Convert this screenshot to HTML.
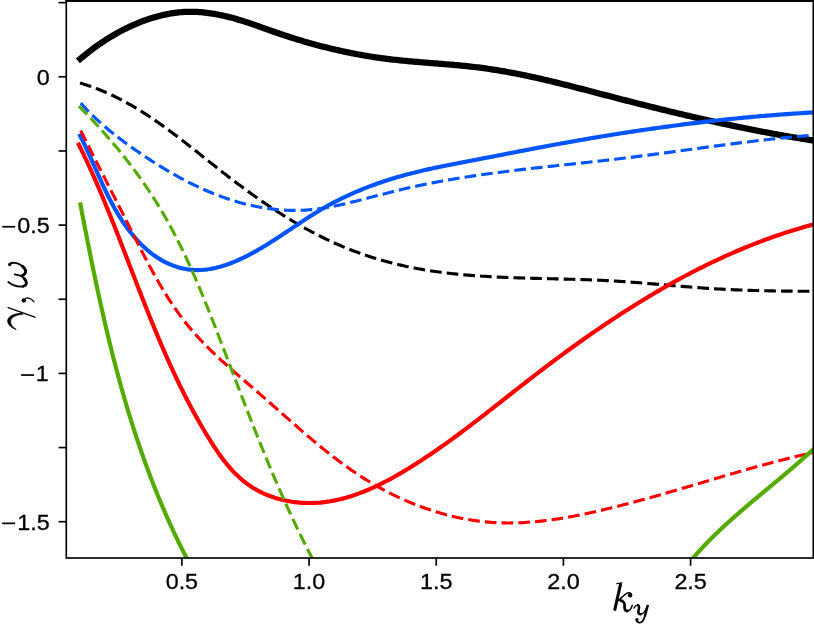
<!DOCTYPE html>
<html><head><meta charset="utf-8"><title>chart</title>
<style>
html,body{margin:0;padding:0;background:#fff;}
body{width:814px;height:630px;overflow:hidden;font-family:"Liberation Sans",sans-serif;}
svg{display:block;}
text{font-family:"Liberation Sans",sans-serif;fill:#000;stroke:#000;stroke-width:0.3px;}
.m{font-family:"Liberation Serif",serif;font-style:italic;}
</style></head><body>
<svg width="814" height="630" viewBox="0 0 814 630">
<rect x="0" y="0" width="814" height="630" fill="#ffffff"/>
<defs><clipPath id="ax"><rect x="66.27" y="0.93" width="747.03" height="557.07"/></clipPath></defs>
<g clip-path="url(#ax)">
<path d="M80.29,58.87 L81.71,57.67 L83.14,56.48 L84.58,55.30 L86.04,54.12 L87.51,52.96 L89.00,51.80 L90.49,50.65 L92.00,49.51 L93.52,48.37 L95.06,47.25 L96.60,46.14 L98.16,45.04 L99.72,43.95 L101.30,42.88 L102.89,41.81 L104.49,40.76 L106.10,39.72 L107.72,38.69 L109.35,37.68 L110.99,36.67 L112.64,35.69 L114.30,34.72 L115.97,33.76 L117.65,32.82 L119.33,31.89 L121.03,30.98 L122.73,30.09 L124.45,29.21 L126.17,28.35 L127.89,27.50 L129.63,26.68 L131.37,25.87 L133.12,25.08 L134.88,24.31 L136.65,23.56 L138.42,22.83 L140.19,22.12 L141.98,21.43 L143.77,20.76 L145.56,20.11 L147.36,19.48 L149.17,18.88 L150.98,18.29 L152.80,17.73 L154.62,17.19 L156.45,16.68 L158.28,16.18 L160.11,15.72 L161.95,15.27 L163.80,14.86 L165.64,14.46 L167.49,14.09 L169.34,13.75 L171.20,13.44 L173.06,13.15 L174.92,12.88 L176.78,12.65 L178.65,12.44 L180.52,12.26 L182.39,12.11 L184.26,11.99 L186.13,11.90 L188.01,11.83 L189.88,11.80 L191.76,11.79 L193.63,11.82 L195.51,11.88 L197.39,11.96 L199.26,12.07 L201.14,12.21 L203.02,12.38 L204.89,12.57 L206.77,12.79 L208.64,13.03 L210.52,13.29 L212.39,13.58 L214.27,13.89 L216.14,14.22 L218.01,14.58 L219.88,14.95 L221.74,15.34 L223.61,15.76 L225.47,16.19 L227.34,16.64 L229.19,17.10 L231.05,17.59 L232.91,18.08 L234.76,18.60 L236.61,19.12 L238.45,19.66 L240.29,20.22 L242.13,20.78 L243.97,21.36 L245.80,21.95 L247.63,22.55 L249.46,23.16 L251.28,23.77 L253.10,24.39 L254.91,25.02 L256.73,25.66 L258.54,26.30 L260.35,26.94 L262.16,27.58 L263.97,28.23 L265.78,28.87 L267.58,29.52 L269.39,30.16 L271.19,30.80 L273.00,31.44 L274.81,32.07 L276.61,32.70 L278.42,33.32 L280.23,33.93 L282.04,34.54 L283.85,35.14 L285.66,35.74 L287.48,36.33 L289.29,36.92 L291.10,37.49 L292.92,38.07 L294.73,38.64 L296.55,39.20 L298.37,39.75 L300.19,40.30 L302.01,40.84 L303.83,41.38 L305.65,41.91 L307.47,42.44 L309.29,42.96 L311.12,43.47 L312.94,43.98 L314.77,44.48 L316.60,44.97 L318.43,45.46 L320.26,45.94 L322.09,46.41 L323.92,46.88 L325.76,47.34 L327.59,47.80 L329.43,48.25 L331.26,48.69 L333.10,49.13 L334.94,49.56 L336.78,49.98 L338.62,50.40 L340.47,50.81 L342.31,51.21 L344.16,51.61 L346.01,52.00 L347.86,52.39 L349.71,52.76 L351.56,53.13 L353.41,53.50 L355.27,53.86 L357.12,54.21 L358.98,54.55 L360.84,54.89 L362.70,55.22 L364.56,55.54 L366.42,55.86 L368.29,56.17 L370.16,56.47 L372.02,56.76 L373.89,57.05 L375.77,57.33 L377.64,57.61 L379.51,57.88 L381.39,58.14 L383.27,58.39 L385.15,58.64 L387.03,58.88 L388.91,59.11 L390.80,59.33 L392.68,59.55 L394.57,59.76 L396.46,59.97 L398.35,60.17 L400.24,60.37 L402.14,60.56 L404.03,60.74 L405.93,60.93 L407.82,61.10 L409.72,61.28 L411.62,61.45 L413.52,61.61 L415.42,61.78 L417.32,61.94 L419.22,62.10 L421.12,62.25 L423.03,62.41 L424.93,62.56 L426.83,62.71 L428.74,62.86 L430.64,63.02 L432.55,63.17 L434.45,63.32 L436.36,63.47 L438.26,63.62 L440.17,63.77 L442.07,63.92 L443.97,64.08 L445.88,64.24 L447.78,64.39 L449.69,64.56 L451.59,64.72 L453.49,64.89 L455.39,65.06 L457.30,65.23 L459.20,65.41 L461.10,65.59 L463.00,65.77 L464.90,65.97 L466.79,66.16 L468.69,66.36 L470.59,66.57 L472.48,66.78 L474.37,67.00 L476.26,67.23 L478.16,67.46 L480.04,67.70 L481.93,67.95 L483.82,68.20 L485.70,68.46 L487.59,68.73 L489.47,69.01 L491.35,69.29 L493.23,69.58 L495.11,69.87 L496.99,70.18 L498.86,70.48 L500.74,70.80 L502.61,71.12 L504.48,71.45 L506.35,71.78 L508.22,72.12 L510.09,72.46 L511.96,72.81 L513.83,73.17 L515.69,73.53 L517.56,73.90 L519.42,74.27 L521.28,74.64 L523.14,75.03 L525.00,75.41 L526.86,75.80 L528.72,76.20 L530.58,76.60 L532.44,77.00 L534.29,77.41 L536.15,77.82 L538.00,78.24 L539.86,78.66 L541.71,79.08 L543.56,79.51 L545.41,79.94 L547.27,80.37 L549.12,80.81 L550.97,81.25 L552.82,81.70 L554.66,82.14 L556.51,82.59 L558.36,83.04 L560.21,83.50 L562.05,83.96 L563.90,84.42 L565.75,84.88 L567.59,85.34 L569.44,85.81 L571.28,86.28 L573.13,86.74 L574.97,87.22 L576.81,87.69 L578.66,88.16 L580.50,88.64 L582.34,89.11 L584.19,89.59 L586.03,90.07 L587.87,90.55 L589.71,91.03 L591.55,91.51 L593.40,91.99 L595.24,92.47 L597.08,92.96 L598.92,93.44 L600.76,93.92 L602.61,94.40 L604.45,94.88 L606.29,95.37 L608.13,95.85 L609.97,96.33 L611.82,96.81 L613.66,97.29 L615.50,97.76 L617.34,98.24 L619.19,98.72 L621.03,99.19 L622.87,99.67 L624.72,100.14 L626.56,100.62 L628.40,101.09 L630.25,101.56 L632.09,102.03 L633.93,102.50 L635.78,102.97 L637.62,103.44 L639.47,103.91 L641.31,104.37 L643.16,104.84 L645.00,105.30 L646.85,105.76 L648.69,106.23 L650.54,106.69 L652.39,107.15 L654.23,107.60 L656.08,108.06 L657.93,108.52 L659.77,108.97 L661.62,109.43 L663.47,109.88 L665.32,110.33 L667.17,110.78 L669.01,111.23 L670.86,111.68 L672.71,112.12 L674.56,112.57 L676.41,113.01 L678.26,113.45 L680.11,113.89 L681.96,114.33 L683.81,114.77 L685.66,115.20 L687.52,115.64 L689.37,116.07 L691.22,116.50 L693.07,116.93 L694.92,117.36 L696.78,117.79 L698.63,118.21 L700.48,118.64 L702.34,119.06 L704.19,119.48 L706.05,119.90 L707.90,120.32 L709.76,120.73 L711.61,121.15 L713.47,121.56 L715.33,121.97 L717.18,122.38 L719.04,122.78 L720.90,123.19 L722.76,123.59 L724.62,123.99 L726.47,124.39 L728.33,124.79 L730.19,125.18 L732.05,125.58 L733.91,125.97 L735.78,126.36 L737.64,126.74 L739.50,127.13 L741.36,127.51 L743.22,127.89 L745.09,128.27 L746.95,128.65 L748.81,129.03 L750.68,129.40 L752.54,129.77 L754.41,130.14 L756.28,130.51 L758.14,130.87 L760.01,131.23 L761.88,131.59 L763.74,131.95 L765.61,132.30 L767.48,132.66 L769.35,133.01 L771.22,133.36 L773.09,133.70 L774.96,134.04 L776.83,134.39 L778.71,134.72 L780.58,135.06 L782.45,135.39 L784.32,135.73 L786.20,136.05 L788.07,136.38 L789.95,136.71 L791.82,137.03 L793.70,137.34 L795.58,137.66 L797.45,137.97 L799.33,138.29 L801.21,138.59 L803.09,138.90 L804.97,139.20 L806.85,139.50 L808.73,139.80 L810.61,140.09 L812.49,140.39" fill="none" stroke="#000000" stroke-width="6.25" stroke-linecap="square" stroke-linejoin="round"/>
<path d="M80.03,83.04 L81.97,83.62 L83.90,84.21 L85.82,84.82 L87.72,85.45 L89.62,86.09 L91.51,86.75 L93.39,87.43 L95.25,88.12 L97.11,88.83 L98.96,89.55 L100.79,90.29 L102.62,91.04 L104.44,91.81 L106.25,92.60 L108.05,93.39 L109.84,94.21 L111.62,95.03 L113.40,95.87 L115.16,96.73 L116.92,97.59 L118.67,98.47 L120.41,99.36 L122.15,100.27 L123.87,101.19 L125.59,102.12 L127.30,103.06 L129.01,104.01 L130.70,104.97 L132.39,105.95 L134.08,106.93 L135.75,107.93 L137.43,108.94 L139.09,109.95 L140.75,110.98 L142.40,112.02 L144.05,113.06 L145.69,114.12 L147.33,115.18 L148.96,116.25 L150.58,117.34 L152.20,118.43 L153.82,119.52 L155.43,120.63 L157.04,121.74 L158.64,122.86 L160.24,123.99 L161.83,125.12 L163.42,126.26 L165.01,127.41 L166.59,128.56 L168.17,129.72 L169.75,130.89 L171.32,132.06 L172.89,133.23 L174.46,134.41 L176.03,135.60 L177.59,136.79 L179.15,137.98 L180.71,139.18 L182.26,140.38 L183.82,141.59 L185.37,142.79 L186.92,144.00 L188.47,145.22 L190.02,146.44 L191.57,147.65 L193.11,148.88 L194.66,150.10 L196.21,151.32 L197.75,152.55 L199.30,153.78 L200.84,155.00 L202.39,156.23 L203.93,157.46 L205.48,158.69 L207.02,159.92 L208.57,161.15 L210.12,162.38 L211.66,163.61 L213.21,164.83 L214.76,166.06 L216.32,167.28 L217.87,168.51 L219.43,169.73 L220.98,170.95 L222.54,172.16 L224.11,173.38 L225.67,174.59 L227.23,175.80 L228.80,177.00 L230.37,178.20 L231.95,179.40 L233.52,180.60 L235.10,181.79 L236.68,182.98 L238.26,184.17 L239.84,185.36 L241.43,186.54 L243.02,187.71 L244.61,188.88 L246.21,190.05 L247.81,191.22 L249.41,192.38 L251.01,193.53 L252.61,194.68 L254.22,195.83 L255.83,196.97 L257.45,198.11 L259.06,199.24 L260.69,200.37 L262.31,201.49 L263.93,202.61 L265.56,203.72 L267.20,204.83 L268.83,205.93 L270.47,207.03 L272.11,208.12 L273.76,209.20 L275.41,210.28 L277.06,211.35 L278.71,212.42 L280.37,213.48 L282.03,214.53 L283.70,215.58 L285.37,216.62 L287.04,217.66 L288.72,218.68 L290.40,219.70 L292.08,220.72 L293.77,221.72 L295.46,222.72 L297.16,223.71 L298.86,224.70 L300.56,225.68 L302.27,226.64 L303.98,227.61 L305.70,228.56 L307.41,229.50 L309.14,230.44 L310.87,231.37 L312.60,232.29 L314.33,233.21 L316.07,234.11 L317.82,235.00 L319.57,235.89 L321.32,236.77 L323.08,237.64 L324.84,238.50 L326.61,239.35 L328.38,240.19 L330.15,241.02 L331.93,241.85 L333.72,242.66 L335.51,243.46 L337.30,244.25 L339.10,245.04 L340.91,245.81 L342.72,246.58 L344.53,247.33 L346.35,248.07 L348.17,248.80 L350.00,249.53 L351.83,250.24 L353.67,250.94 L355.51,251.63 L357.35,252.31 L359.20,252.98 L361.06,253.64 L362.91,254.30 L364.77,254.94 L366.64,255.57 L368.51,256.18 L370.38,256.79 L372.25,257.39 L374.13,257.98 L376.01,258.56 L377.89,259.13 L379.78,259.69 L381.67,260.23 L383.56,260.77 L385.45,261.30 L387.35,261.81 L389.25,262.32 L391.15,262.81 L393.05,263.30 L394.96,263.77 L396.86,264.24 L398.77,264.69 L400.68,265.14 L402.60,265.57 L404.51,265.99 L406.43,266.41 L408.34,266.81 L410.26,267.20 L412.18,267.59 L414.10,267.96 L416.03,268.33 L417.95,268.68 L419.88,269.03 L421.81,269.37 L423.74,269.70 L425.67,270.02 L427.60,270.33 L429.54,270.64 L431.47,270.93 L433.41,271.22 L435.35,271.50 L437.29,271.77 L439.23,272.04 L441.17,272.30 L443.11,272.55 L445.06,272.79 L447.00,273.02 L448.95,273.25 L450.89,273.47 L452.84,273.69 L454.79,273.90 L456.74,274.10 L458.70,274.29 L460.65,274.48 L462.60,274.66 L464.56,274.84 L466.52,275.01 L468.47,275.18 L470.43,275.34 L472.39,275.49 L474.35,275.64 L476.31,275.79 L478.27,275.92 L480.23,276.06 L482.20,276.19 L484.16,276.31 L486.12,276.43 L488.09,276.55 L490.05,276.66 L492.02,276.77 L493.99,276.87 L495.96,276.97 L497.92,277.07 L499.89,277.16 L501.86,277.25 L503.83,277.34 L505.80,277.42 L507.77,277.50 L509.74,277.58 L511.72,277.65 L513.69,277.72 L515.66,277.79 L517.63,277.86 L519.61,277.92 L521.58,277.98 L523.56,278.04 L525.53,278.10 L527.50,278.16 L529.48,278.21 L531.45,278.27 L533.43,278.32 L535.40,278.37 L537.38,278.42 L539.36,278.47 L541.33,278.52 L543.31,278.57 L545.28,278.62 L547.26,278.66 L549.23,278.71 L551.21,278.76 L553.19,278.80 L555.16,278.85 L557.14,278.90 L559.11,278.95 L561.09,279.00 L563.06,279.05 L565.04,279.10 L567.01,279.15 L568.99,279.20 L570.96,279.25 L572.94,279.31 L574.91,279.36 L576.88,279.42 L578.86,279.48 L580.83,279.54 L582.80,279.61 L584.77,279.67 L586.74,279.74 L588.71,279.81 L590.69,279.88 L592.66,279.96 L594.62,280.04 L596.59,280.12 L598.56,280.20 L600.53,280.29 L602.50,280.38 L604.46,280.48 L606.43,280.58 L608.40,280.68 L610.36,280.78 L612.32,280.89 L614.29,281.01 L616.25,281.13 L618.21,281.25 L620.17,281.38 L622.13,281.50 L624.09,281.64 L626.05,281.77 L628.01,281.91 L629.97,282.05 L631.93,282.20 L633.88,282.35 L635.84,282.50 L637.80,282.65 L639.75,282.80 L641.71,282.96 L643.66,283.12 L645.62,283.28 L647.57,283.44 L649.53,283.60 L651.48,283.77 L653.44,283.93 L655.39,284.10 L657.34,284.26 L659.30,284.43 L661.25,284.60 L663.20,284.77 L665.16,284.93 L667.11,285.10 L669.07,285.27 L671.02,285.44 L672.97,285.60 L674.93,285.77 L676.88,285.94 L678.84,286.10 L680.79,286.26 L682.75,286.43 L684.70,286.59 L686.66,286.75 L688.61,286.90 L690.57,287.06 L692.53,287.21 L694.48,287.36 L696.44,287.51 L698.40,287.66 L700.36,287.80 L702.32,287.94 L704.28,288.08 L706.24,288.21 L708.20,288.35 L710.16,288.47 L712.12,288.60 L714.09,288.72 L716.05,288.84 L718.02,288.95 L719.98,289.06 L721.95,289.16 L723.91,289.27 L725.88,289.37 L727.85,289.46 L729.81,289.56 L731.78,289.65 L733.75,289.73 L735.72,289.82 L737.69,289.90 L739.66,289.98 L741.63,290.05 L743.60,290.13 L745.57,290.20 L747.54,290.26 L749.51,290.33 L751.48,290.39 L753.45,290.45 L755.42,290.50 L757.39,290.56 L759.37,290.61 L761.34,290.66 L763.31,290.71 L765.28,290.75 L767.25,290.79 L769.22,290.84 L771.19,290.87 L773.17,290.91 L775.14,290.95 L777.11,290.98 L779.08,291.01 L781.05,291.04 L783.02,291.07 L784.99,291.09 L786.96,291.12 L788.93,291.14 L790.89,291.16 L792.86,291.18 L794.83,291.20 L796.80,291.22 L798.77,291.23 L800.73,291.25 L802.70,291.26 L804.66,291.27 L806.63,291.28 L808.59,291.29 L810.55,291.30 L812.52,291.31" fill="none" stroke="#000000" stroke-width="3.125" stroke-dasharray="11.690 5.055" stroke-linecap="butt" stroke-linejoin="round"/>
<path d="M80.11,135.72 L81.06,137.57 L81.99,139.42 L82.92,141.28 L83.83,143.14 L84.73,145.01 L85.62,146.89 L86.51,148.76 L87.38,150.64 L88.25,152.52 L89.11,154.41 L89.97,156.30 L90.82,158.19 L91.67,160.08 L92.51,161.97 L93.35,163.86 L94.19,165.76 L95.03,167.65 L95.87,169.55 L96.71,171.44 L97.55,173.33 L98.39,175.23 L99.24,177.12 L100.09,179.01 L100.94,180.89 L101.80,182.78 L102.67,184.66 L103.54,186.54 L104.42,188.42 L105.31,190.29 L106.21,192.16 L107.12,194.02 L108.04,195.88 L108.97,197.74 L109.92,199.59 L110.88,201.43 L111.85,203.27 L112.84,205.11 L113.84,206.93 L114.86,208.75 L115.90,210.56 L116.95,212.37 L118.03,214.16 L119.12,215.95 L120.24,217.73 L121.37,219.50 L122.53,221.27 L123.71,223.02 L124.92,224.76 L126.15,226.50 L127.40,228.22 L128.68,229.92 L129.98,231.61 L131.31,233.29 L132.66,234.94 L134.03,236.58 L135.43,238.19 L136.85,239.78 L138.30,241.35 L139.77,242.89 L141.26,244.40 L142.78,245.89 L144.32,247.34 L145.88,248.76 L147.47,250.15 L149.08,251.50 L150.71,252.82 L152.37,254.09 L154.05,255.33 L155.76,256.52 L157.49,257.68 L159.24,258.78 L161.01,259.85 L162.81,260.86 L164.63,261.82 L166.48,262.74 L168.34,263.60 L170.22,264.42 L172.12,265.18 L174.03,265.89 L175.97,266.55 L177.91,267.15 L179.87,267.70 L181.84,268.19 L183.82,268.63 L185.81,269.01 L187.81,269.33 L189.81,269.59 L191.82,269.80 L193.83,269.94 L195.85,270.02 L197.87,270.05 L199.89,270.01 L201.91,269.91 L203.94,269.76 L205.96,269.56 L207.98,269.30 L210.00,268.99 L212.02,268.63 L214.04,268.22 L216.05,267.77 L218.07,267.27 L220.07,266.73 L222.08,266.15 L224.08,265.53 L226.07,264.87 L228.06,264.17 L230.04,263.44 L232.02,262.68 L233.99,261.89 L235.95,261.07 L237.90,260.22 L239.85,259.34 L241.78,258.44 L243.71,257.52 L245.62,256.58 L247.53,255.61 L249.42,254.63 L251.30,253.64 L253.17,252.63 L255.03,251.60 L256.88,250.56 L258.72,249.51 L260.55,248.45 L262.37,247.38 L264.18,246.29 L265.98,245.20 L267.77,244.09 L269.56,242.98 L271.34,241.86 L273.11,240.73 L274.88,239.60 L276.64,238.46 L278.40,237.31 L280.15,236.16 L281.90,235.01 L283.64,233.86 L285.38,232.70 L287.12,231.54 L288.86,230.37 L290.59,229.21 L292.33,228.05 L294.06,226.89 L295.79,225.73 L297.53,224.57 L299.26,223.42 L300.99,222.27 L302.73,221.12 L304.47,219.98 L306.21,218.84 L307.96,217.71 L309.70,216.59 L311.46,215.47 L313.21,214.37 L314.97,213.27 L316.74,212.18 L318.51,211.10 L320.29,210.04 L322.08,208.98 L323.88,207.94 L325.68,206.91 L327.49,205.89 L329.30,204.89 L331.13,203.90 L332.96,202.92 L334.80,201.95 L336.65,201.00 L338.50,200.06 L340.36,199.13 L342.22,198.21 L344.10,197.31 L345.98,196.42 L347.86,195.54 L349.75,194.67 L351.65,193.82 L353.56,192.97 L355.47,192.14 L357.38,191.32 L359.30,190.52 L361.23,189.72 L363.16,188.94 L365.09,188.17 L367.04,187.41 L368.98,186.66 L370.93,185.92 L372.89,185.20 L374.85,184.48 L376.81,183.78 L378.78,183.09 L380.75,182.41 L382.73,181.74 L384.71,181.08 L386.70,180.43 L388.68,179.80 L390.68,179.17 L392.67,178.56 L394.67,177.95 L396.67,177.36 L398.67,176.78 L400.68,176.21 L402.69,175.65 L404.70,175.09 L406.71,174.55 L408.73,174.02 L410.75,173.50 L412.77,172.98 L414.80,172.48 L416.82,171.98 L418.85,171.49 L420.88,171.01 L422.91,170.54 L424.95,170.07 L426.98,169.61 L429.02,169.15 L431.06,168.71 L433.10,168.26 L435.14,167.83 L437.18,167.39 L439.22,166.97 L441.27,166.54 L443.31,166.13 L445.36,165.71 L447.41,165.30 L449.46,164.89 L451.51,164.49 L453.55,164.09 L455.60,163.69 L457.66,163.29 L459.71,162.89 L461.76,162.50 L463.81,162.10 L465.86,161.71 L467.91,161.32 L469.96,160.93 L472.01,160.54 L474.06,160.14 L476.11,159.75 L478.16,159.36 L480.21,158.96 L482.26,158.57 L484.31,158.17 L486.36,157.77 L488.41,157.38 L490.45,156.98 L492.50,156.58 L494.55,156.18 L496.60,155.79 L498.64,155.39 L500.69,154.99 L502.74,154.59 L504.79,154.19 L506.83,153.79 L508.88,153.40 L510.93,153.00 L512.97,152.60 L515.02,152.20 L517.07,151.81 L519.11,151.41 L521.16,151.02 L523.21,150.62 L525.25,150.23 L527.30,149.83 L529.35,149.44 L531.39,149.05 L533.44,148.66 L535.49,148.27 L537.54,147.88 L539.58,147.49 L541.63,147.10 L543.68,146.72 L545.73,146.33 L547.78,145.95 L549.83,145.57 L551.88,145.19 L553.93,144.81 L555.98,144.44 L558.03,144.06 L560.08,143.69 L562.13,143.31 L564.19,142.94 L566.24,142.58 L568.29,142.21 L570.34,141.84 L572.40,141.48 L574.45,141.11 L576.50,140.75 L578.56,140.39 L580.61,140.04 L582.67,139.68 L584.72,139.33 L586.78,138.97 L588.84,138.62 L590.89,138.27 L592.95,137.92 L595.01,137.58 L597.06,137.23 L599.12,136.89 L601.18,136.55 L603.24,136.21 L605.30,135.87 L607.35,135.54 L609.41,135.20 L611.47,134.87 L613.53,134.54 L615.59,134.21 L617.65,133.89 L619.71,133.56 L621.78,133.24 L623.84,132.92 L625.90,132.60 L627.96,132.28 L630.02,131.96 L632.09,131.65 L634.15,131.34 L636.21,131.03 L638.27,130.72 L640.34,130.41 L642.40,130.11 L644.47,129.80 L646.53,129.50 L648.60,129.20 L650.66,128.91 L652.73,128.61 L654.79,128.32 L656.86,128.03 L658.93,127.74 L660.99,127.45 L663.06,127.17 L665.13,126.88 L667.19,126.60 L669.26,126.32 L671.33,126.04 L673.40,125.77 L675.47,125.50 L677.53,125.23 L679.60,124.96 L681.67,124.69 L683.74,124.43 L685.81,124.16 L687.88,123.90 L689.95,123.64 L692.02,123.39 L694.09,123.13 L696.16,122.88 L698.24,122.63 L700.31,122.38 L702.38,122.14 L704.45,121.89 L706.52,121.65 L708.60,121.41 L710.67,121.18 L712.74,120.94 L714.81,120.71 L716.89,120.48 L718.96,120.25 L721.03,120.03 L723.11,119.80 L725.18,119.58 L727.26,119.36 L729.33,119.15 L731.41,118.93 L733.48,118.72 L735.56,118.51 L737.63,118.30 L739.71,118.10 L741.79,117.90 L743.86,117.69 L745.94,117.50 L748.02,117.30 L750.09,117.11 L752.17,116.92 L754.25,116.73 L756.32,116.54 L758.40,116.36 L760.48,116.18 L762.56,116.00 L764.64,115.82 L766.71,115.65 L768.79,115.48 L770.87,115.31 L772.95,115.14 L775.03,114.98 L777.11,114.82 L779.19,114.66 L781.27,114.50 L783.35,114.35 L785.43,114.19 L787.51,114.05 L789.59,113.90 L791.67,113.76 L793.75,113.61 L795.83,113.48 L797.92,113.34 L800.00,113.21 L802.08,113.07 L804.16,112.95 L806.24,112.82 L808.32,112.70 L810.41,112.58 L812.49,112.46" fill="none" stroke="#0055ff" stroke-width="4.17" stroke-linecap="square" stroke-linejoin="round"/>
<path d="M80.75,103.11 L82.05,104.56 L83.36,105.99 L84.68,107.41 L86.00,108.82 L87.34,110.21 L88.69,111.59 L90.05,112.96 L91.41,114.31 L92.79,115.65 L94.17,116.99 L95.57,118.31 L96.97,119.61 L98.38,120.91 L99.80,122.20 L101.23,123.47 L102.67,124.74 L104.12,125.99 L105.57,127.24 L107.03,128.48 L108.50,129.70 L109.98,130.92 L111.46,132.13 L112.95,133.33 L114.45,134.52 L115.96,135.70 L117.47,136.88 L118.99,138.04 L120.51,139.21 L122.05,140.36 L123.58,141.50 L125.13,142.64 L126.68,143.78 L128.23,144.90 L129.80,146.02 L131.36,147.14 L132.93,148.25 L134.51,149.35 L136.09,150.45 L137.68,151.55 L139.27,152.64 L140.87,153.73 L142.47,154.81 L144.08,155.88 L145.69,156.96 L147.30,158.02 L148.92,159.09 L150.55,160.14 L152.18,161.20 L153.81,162.24 L155.45,163.28 L157.09,164.32 L158.74,165.34 L160.39,166.36 L162.05,167.38 L163.71,168.39 L165.37,169.39 L167.04,170.38 L168.72,171.36 L170.39,172.34 L172.08,173.31 L173.77,174.27 L175.46,175.23 L177.16,176.17 L178.86,177.11 L180.56,178.04 L182.28,178.96 L183.99,179.87 L185.71,180.77 L187.44,181.66 L189.16,182.54 L190.90,183.41 L192.64,184.27 L194.38,185.12 L196.13,185.96 L197.88,186.78 L199.64,187.60 L201.40,188.41 L203.16,189.20 L204.93,189.99 L206.71,190.76 L208.49,191.52 L210.27,192.26 L212.06,193.00 L213.85,193.72 L215.65,194.43 L217.45,195.13 L219.26,195.81 L221.07,196.48 L222.89,197.14 L224.71,197.78 L226.53,198.41 L228.36,199.03 L230.19,199.63 L232.03,200.21 L233.87,200.78 L235.72,201.34 L237.56,201.88 L239.42,202.41 L241.27,202.92 L243.13,203.42 L244.99,203.90 L246.85,204.37 L248.72,204.82 L250.59,205.25 L252.47,205.67 L254.34,206.07 L256.22,206.45 L258.10,206.82 L259.98,207.17 L261.87,207.50 L263.76,207.82 L265.64,208.12 L267.54,208.40 L269.43,208.66 L271.32,208.91 L273.22,209.14 L275.12,209.35 L277.02,209.54 L278.92,209.71 L280.82,209.86 L282.72,210.00 L284.62,210.12 L286.53,210.21 L288.43,210.29 L290.33,210.35 L292.24,210.38 L294.15,210.40 L296.05,210.40 L297.96,210.38 L299.86,210.34 L301.77,210.27 L303.68,210.19 L305.58,210.08 L307.49,209.96 L309.39,209.81 L311.30,209.64 L313.20,209.45 L315.10,209.24 L317.00,209.01 L318.90,208.76 L320.80,208.49 L322.70,208.20 L324.60,207.90 L326.50,207.58 L328.39,207.25 L330.29,206.90 L332.18,206.54 L334.08,206.16 L335.97,205.77 L337.86,205.38 L339.75,204.97 L341.64,204.55 L343.53,204.12 L345.42,203.68 L347.30,203.24 L349.19,202.79 L351.07,202.34 L352.95,201.88 L354.83,201.41 L356.72,200.94 L358.59,200.47 L360.47,199.99 L362.35,199.51 L364.23,199.03 L366.10,198.54 L367.98,198.05 L369.86,197.57 L371.73,197.08 L373.61,196.59 L375.48,196.10 L377.36,195.61 L379.23,195.12 L381.11,194.63 L382.98,194.14 L384.85,193.66 L386.73,193.17 L388.61,192.69 L390.48,192.22 L392.36,191.74 L394.23,191.28 L396.11,190.81 L397.99,190.35 L399.87,189.90 L401.75,189.45 L403.63,189.01 L405.51,188.57 L407.39,188.14 L409.28,187.71 L411.16,187.29 L413.04,186.87 L414.93,186.46 L416.82,186.05 L418.70,185.65 L420.59,185.25 L422.48,184.86 L424.37,184.47 L426.26,184.09 L428.15,183.71 L430.04,183.34 L431.93,182.97 L433.83,182.61 L435.72,182.25 L437.61,181.89 L439.51,181.54 L441.40,181.19 L443.30,180.85 L445.20,180.51 L447.09,180.18 L448.99,179.84 L450.89,179.52 L452.79,179.19 L454.69,178.88 L456.59,178.56 L458.49,178.25 L460.39,177.94 L462.29,177.64 L464.19,177.33 L466.10,177.04 L468.00,176.74 L469.90,176.45 L471.81,176.16 L473.71,175.88 L475.62,175.60 L477.53,175.32 L479.43,175.04 L481.34,174.77 L483.25,174.50 L485.15,174.23 L487.06,173.97 L488.97,173.71 L490.88,173.45 L492.79,173.19 L494.70,172.94 L496.61,172.68 L498.52,172.44 L500.43,172.19 L502.34,171.94 L504.25,171.70 L506.16,171.46 L508.08,171.22 L509.99,170.99 L511.90,170.75 L513.81,170.52 L515.73,170.29 L517.64,170.06 L519.55,169.83 L521.47,169.60 L523.38,169.38 L525.30,169.16 L527.21,168.94 L529.13,168.72 L531.04,168.50 L532.96,168.28 L534.87,168.06 L536.79,167.85 L538.71,167.63 L540.62,167.42 L542.54,167.21 L544.46,167.00 L546.37,166.78 L548.29,166.57 L550.21,166.36 L552.12,166.16 L554.04,165.95 L555.96,165.74 L557.87,165.53 L559.79,165.33 L561.71,165.12 L563.63,164.91 L565.54,164.71 L567.46,164.50 L569.38,164.29 L571.30,164.09 L573.21,163.88 L575.13,163.68 L577.05,163.47 L578.97,163.26 L580.89,163.05 L582.80,162.85 L584.72,162.64 L586.64,162.43 L588.56,162.22 L590.47,162.01 L592.39,161.80 L594.31,161.59 L596.22,161.38 L598.14,161.17 L600.06,160.95 L601.97,160.74 L603.89,160.52 L605.81,160.30 L607.72,160.09 L609.64,159.87 L611.56,159.64 L613.47,159.42 L615.39,159.20 L617.30,158.97 L619.22,158.75 L621.13,158.52 L623.05,158.29 L624.96,158.06 L626.88,157.82 L628.79,157.59 L630.70,157.35 L632.62,157.11 L634.53,156.87 L636.44,156.63 L638.36,156.39 L640.27,156.14 L642.18,155.90 L644.09,155.65 L646.01,155.40 L647.92,155.15 L649.83,154.90 L651.74,154.65 L653.65,154.40 L655.57,154.14 L657.48,153.89 L659.39,153.63 L661.30,153.38 L663.21,153.12 L665.12,152.86 L667.03,152.61 L668.94,152.35 L670.85,152.09 L672.76,151.83 L674.67,151.57 L676.59,151.31 L678.50,151.05 L680.41,150.79 L682.32,150.53 L684.23,150.27 L686.14,150.00 L688.05,149.74 L689.96,149.48 L691.87,149.22 L693.78,148.96 L695.69,148.70 L697.60,148.44 L699.51,148.18 L701.42,147.92 L703.33,147.66 L705.24,147.40 L707.15,147.14 L709.06,146.88 L710.97,146.63 L712.88,146.37 L714.79,146.12 L716.71,145.86 L718.62,145.61 L720.53,145.35 L722.44,145.10 L724.35,144.85 L726.26,144.60 L728.17,144.35 L730.09,144.10 L732.00,143.86 L733.91,143.61 L735.82,143.37 L737.73,143.12 L739.65,142.88 L741.56,142.64 L743.47,142.40 L745.39,142.17 L747.30,141.93 L749.21,141.70 L751.13,141.47 L753.04,141.24 L754.96,141.01 L756.87,140.78 L758.78,140.56 L760.70,140.34 L762.61,140.12 L764.53,139.90 L766.45,139.69 L768.36,139.47 L770.28,139.26 L772.20,139.05 L774.11,138.85 L776.03,138.64 L777.95,138.44 L779.87,138.24 L781.78,138.05 L783.70,137.85 L785.62,137.66 L787.54,137.48 L789.46,137.29 L791.38,137.11 L793.30,136.93 L795.22,136.75 L797.14,136.58 L799.06,136.41 L800.99,136.25 L802.91,136.08 L804.83,135.92 L806.75,135.77 L808.68,135.61 L810.60,135.46 L812.53,135.32" fill="none" stroke="#0055ff" stroke-width="3.125" stroke-dasharray="11.690 5.055" stroke-linecap="butt" stroke-linejoin="round"/>
<path d="M78.87,144.65 L80.01,146.97 L81.14,149.30 L82.27,151.63 L83.39,153.97 L84.50,156.30 L85.60,158.64 L86.69,160.98 L87.78,163.33 L88.86,165.68 L89.93,168.03 L91.00,170.38 L92.05,172.74 L93.11,175.10 L94.15,177.46 L95.19,179.82 L96.22,182.19 L97.25,184.55 L98.27,186.92 L99.29,189.30 L100.30,191.67 L101.31,194.05 L102.31,196.42 L103.30,198.80 L104.29,201.18 L105.28,203.57 L106.26,205.95 L107.24,208.34 L108.21,210.73 L109.18,213.12 L110.15,215.51 L111.11,217.90 L112.07,220.29 L113.02,222.69 L113.98,225.08 L114.93,227.48 L115.87,229.88 L116.82,232.28 L117.76,234.68 L118.70,237.08 L119.64,239.48 L120.57,241.88 L121.51,244.28 L122.44,246.69 L123.37,249.09 L124.30,251.49 L125.23,253.90 L126.16,256.30 L127.09,258.71 L128.01,261.11 L128.94,263.52 L129.87,265.92 L130.79,268.33 L131.72,270.73 L132.64,273.14 L133.57,275.54 L134.50,277.95 L135.43,280.35 L136.36,282.76 L137.29,285.16 L138.22,287.56 L139.15,289.96 L140.09,292.37 L141.02,294.77 L141.96,297.17 L142.90,299.56 L143.84,301.96 L144.79,304.36 L145.74,306.76 L146.69,309.15 L147.64,311.54 L148.60,313.94 L149.56,316.33 L150.52,318.72 L151.49,321.11 L152.46,323.49 L153.44,325.88 L154.42,328.26 L155.40,330.64 L156.39,333.02 L157.38,335.40 L158.38,337.78 L159.38,340.15 L160.39,342.52 L161.40,344.89 L162.42,347.26 L163.44,349.63 L164.47,351.99 L165.51,354.35 L166.55,356.71 L167.60,359.07 L168.65,361.42 L169.72,363.77 L170.78,366.12 L171.86,368.47 L172.94,370.81 L174.03,373.15 L175.13,375.48 L176.23,377.82 L177.34,380.15 L178.47,382.48 L179.59,384.80 L180.73,387.12 L181.88,389.44 L183.03,391.76 L184.19,394.07 L185.37,396.37 L186.55,398.68 L187.74,400.98 L188.94,403.28 L190.15,405.57 L191.37,407.86 L192.60,410.14 L193.84,412.42 L195.09,414.70 L196.35,416.97 L197.62,419.24 L198.90,421.51 L200.19,423.77 L201.50,426.02 L202.81,428.28 L204.14,430.52 L205.48,432.77 L206.83,435.00 L208.19,437.24 L209.57,439.46 L210.96,441.68 L212.36,443.89 L213.78,446.09 L215.22,448.27 L216.68,450.44 L218.15,452.59 L219.65,454.72 L221.17,456.82 L222.72,458.90 L224.29,460.95 L225.89,462.98 L227.51,464.97 L229.16,466.92 L230.85,468.84 L232.56,470.73 L234.31,472.57 L236.09,474.37 L237.91,476.12 L239.76,477.83 L241.65,479.49 L243.58,481.10 L245.55,482.65 L247.56,484.15 L249.61,485.59 L251.71,486.98 L253.84,488.30 L256.02,489.57 L258.23,490.78 L260.47,491.93 L262.75,493.03 L265.05,494.06 L267.39,495.04 L269.75,495.97 L272.14,496.83 L274.55,497.64 L276.99,498.39 L279.44,499.09 L281.92,499.73 L284.41,500.31 L286.91,500.83 L289.43,501.30 L291.96,501.72 L294.50,502.07 L297.04,502.37 L299.60,502.62 L302.15,502.81 L304.71,502.94 L307.27,503.02 L309.83,503.04 L312.39,503.01 L314.94,502.92 L317.48,502.78 L320.02,502.59 L322.56,502.34 L325.09,502.04 L327.61,501.69 L330.12,501.30 L332.63,500.85 L335.14,500.36 L337.63,499.82 L340.12,499.24 L342.61,498.62 L345.08,497.95 L347.55,497.24 L350.02,496.49 L352.47,495.71 L354.92,494.88 L357.36,494.02 L359.80,493.13 L362.22,492.20 L364.64,491.24 L367.05,490.24 L369.45,489.21 L371.85,488.16 L374.23,487.08 L376.61,485.96 L378.98,484.83 L381.34,483.67 L383.70,482.48 L386.04,481.27 L388.38,480.04 L390.70,478.79 L393.02,477.52 L395.33,476.23 L397.63,474.92 L399.92,473.60 L402.20,472.26 L404.47,470.91 L406.73,469.54 L408.98,468.17 L411.22,466.78 L413.45,465.38 L415.67,463.98 L417.88,462.57 L420.09,461.15 L422.28,459.72 L424.46,458.29 L426.64,456.85 L428.80,455.40 L430.96,453.94 L433.10,452.48 L435.24,451.01 L437.38,449.54 L439.50,448.06 L441.62,446.58 L443.73,445.08 L445.83,443.59 L447.93,442.08 L450.02,440.58 L452.10,439.06 L454.18,437.55 L456.26,436.03 L458.32,434.50 L460.39,432.97 L462.44,431.43 L464.50,429.90 L466.54,428.35 L468.59,426.81 L470.63,425.26 L472.66,423.71 L474.69,422.15 L476.72,420.59 L478.75,419.03 L480.77,417.47 L482.79,415.90 L484.81,414.33 L486.83,412.77 L488.84,411.19 L490.86,409.62 L492.87,408.05 L494.88,406.47 L496.89,404.89 L498.90,403.32 L500.90,401.74 L502.91,400.16 L504.92,398.58 L506.93,397.00 L508.94,395.42 L510.95,393.84 L512.96,392.26 L514.97,390.68 L516.98,389.10 L519.00,387.53 L521.02,385.95 L523.04,384.38 L525.06,382.80 L527.08,381.23 L529.11,379.66 L531.14,378.09 L533.17,376.53 L535.21,374.96 L537.25,373.40 L539.29,371.84 L541.34,370.28 L543.39,368.73 L545.44,367.18 L547.49,365.63 L549.55,364.08 L551.61,362.53 L553.68,360.99 L555.74,359.45 L557.81,357.92 L559.89,356.38 L561.96,354.85 L564.04,353.33 L566.13,351.80 L568.21,350.28 L570.30,348.77 L572.40,347.25 L574.49,345.74 L576.59,344.24 L578.69,342.74 L580.80,341.24 L582.91,339.74 L585.02,338.25 L587.14,336.77 L589.26,335.29 L591.38,333.81 L593.51,332.34 L595.64,330.87 L597.77,329.40 L599.90,327.95 L602.04,326.49 L604.19,325.04 L606.33,323.60 L608.48,322.16 L610.64,320.72 L612.79,319.29 L614.95,317.87 L617.12,316.45 L619.28,315.03 L621.45,313.62 L623.63,312.22 L625.81,310.82 L627.99,309.43 L630.17,308.05 L632.36,306.67 L634.55,305.29 L636.75,303.93 L638.95,302.56 L641.15,301.21 L643.35,299.86 L645.56,298.52 L647.78,297.18 L650.00,295.85 L652.22,294.53 L654.44,293.21 L656.67,291.90 L658.90,290.60 L661.14,289.30 L663.38,288.02 L665.62,286.73 L667.87,285.46 L670.12,284.19 L672.37,282.93 L674.63,281.68 L676.89,280.44 L679.16,279.20 L681.43,277.97 L683.70,276.75 L685.98,275.53 L688.26,274.33 L690.54,273.13 L692.83,271.94 L695.12,270.76 L697.42,269.59 L699.72,268.42 L702.03,267.27 L704.33,266.12 L706.65,264.98 L708.96,263.85 L711.28,262.73 L713.61,261.62 L715.94,260.52 L718.27,259.42 L720.60,258.34 L722.94,257.26 L725.29,256.19 L727.64,255.14 L729.99,254.09 L732.35,253.05 L734.71,252.02 L737.07,251.00 L739.44,249.99 L741.81,249.00 L744.19,248.01 L746.57,247.03 L748.96,246.06 L751.35,245.10 L753.74,244.15 L756.14,243.21 L758.54,242.29 L760.95,241.37 L763.36,240.46 L765.77,239.57 L768.19,238.68 L770.61,237.81 L773.04,236.95 L775.47,236.09 L777.91,235.25 L780.35,234.42 L782.79,233.61 L785.24,232.80 L787.70,232.00 L790.15,231.22 L792.62,230.45 L795.08,229.69 L797.55,228.94 L800.03,228.20 L802.51,227.48 L804.99,226.77 L807.48,226.07 L809.97,225.38 L812.47,224.70" fill="none" stroke="#ff0000" stroke-width="4.17" stroke-linecap="square" stroke-linejoin="round"/>
<path d="M80.74,130.49 L81.78,132.58 L82.81,134.68 L83.85,136.77 L84.89,138.85 L85.92,140.94 L86.96,143.02 L88.00,145.10 L89.04,147.17 L90.07,149.25 L91.11,151.32 L92.15,153.38 L93.19,155.45 L94.23,157.51 L95.27,159.57 L96.32,161.63 L97.36,163.69 L98.40,165.75 L99.44,167.80 L100.48,169.85 L101.53,171.91 L102.57,173.96 L103.61,176.01 L104.66,178.06 L105.70,180.10 L106.74,182.15 L107.79,184.20 L108.83,186.25 L109.88,188.30 L110.92,190.34 L111.96,192.39 L113.01,194.44 L114.05,196.49 L115.10,198.54 L116.14,200.59 L117.19,202.64 L118.23,204.69 L119.28,206.74 L120.32,208.80 L121.37,210.85 L122.41,212.91 L123.46,214.97 L124.50,217.03 L125.55,219.09 L126.59,221.15 L127.64,223.22 L128.68,225.29 L129.73,227.36 L130.77,229.43 L131.82,231.51 L132.86,233.59 L133.91,235.66 L134.96,237.74 L136.01,239.82 L137.06,241.90 L138.12,243.98 L139.17,246.06 L140.23,248.14 L141.30,250.21 L142.37,252.29 L143.44,254.36 L144.51,256.44 L145.60,258.50 L146.68,260.57 L147.77,262.63 L148.87,264.69 L149.97,266.75 L151.08,268.80 L152.20,270.85 L153.32,272.89 L154.45,274.93 L155.59,276.96 L156.74,278.98 L157.89,281.00 L159.05,283.02 L160.22,285.02 L161.41,287.02 L162.60,289.02 L163.80,291.00 L165.01,292.98 L166.23,294.94 L167.46,296.90 L168.70,298.85 L169.96,300.79 L171.23,302.72 L172.50,304.64 L173.80,306.55 L175.10,308.45 L176.42,310.34 L177.75,312.22 L179.09,314.08 L180.45,315.93 L181.83,317.77 L183.21,319.60 L184.62,321.41 L186.04,323.22 L187.47,325.00 L188.92,326.78 L190.39,328.53 L191.87,330.28 L193.37,332.01 L194.88,333.73 L196.41,335.43 L197.95,337.13 L199.50,338.81 L201.07,340.48 L202.65,342.14 L204.24,343.79 L205.85,345.43 L207.47,347.06 L209.09,348.67 L210.73,350.28 L212.38,351.89 L214.04,353.48 L215.70,355.06 L217.38,356.64 L219.06,358.21 L220.75,359.78 L222.45,361.33 L224.16,362.89 L225.87,364.43 L227.59,365.97 L229.31,367.51 L231.05,369.04 L232.78,370.57 L234.52,372.10 L236.26,373.62 L238.01,375.14 L239.76,376.66 L241.51,378.17 L243.27,379.69 L245.03,381.20 L246.78,382.71 L248.54,384.22 L250.30,385.73 L252.06,387.25 L253.82,388.76 L255.58,390.27 L257.34,391.79 L259.10,393.31 L260.85,394.83 L262.60,396.36 L264.35,397.88 L266.10,399.41 L267.84,400.94 L269.59,402.48 L271.33,404.01 L273.07,405.55 L274.81,407.08 L276.55,408.62 L278.28,410.16 L280.02,411.70 L281.76,413.24 L283.50,414.78 L285.23,416.31 L286.97,417.85 L288.71,419.39 L290.45,420.92 L292.19,422.45 L293.93,423.98 L295.67,425.51 L297.42,427.04 L299.16,428.56 L300.91,430.08 L302.66,431.59 L304.41,433.10 L306.17,434.61 L307.93,436.12 L309.69,437.61 L311.46,439.11 L313.22,440.60 L315.00,442.08 L316.77,443.56 L318.55,445.03 L320.34,446.50 L322.13,447.96 L323.92,449.41 L325.72,450.85 L327.53,452.29 L329.34,453.72 L331.16,455.14 L332.98,456.56 L334.81,457.96 L336.64,459.36 L338.48,460.75 L340.33,462.13 L342.19,463.50 L344.05,464.85 L345.92,466.20 L347.80,467.54 L349.68,468.87 L351.57,470.18 L353.47,471.49 L355.38,472.78 L357.30,474.06 L359.23,475.33 L361.17,476.59 L363.11,477.84 L365.07,479.07 L367.03,480.28 L369.01,481.49 L370.99,482.68 L372.99,483.86 L374.99,485.02 L377.00,486.17 L379.02,487.30 L381.05,488.42 L383.09,489.53 L385.13,490.62 L387.19,491.70 L389.25,492.76 L391.32,493.80 L393.40,494.83 L395.48,495.85 L397.58,496.85 L399.68,497.83 L401.79,498.80 L403.90,499.75 L406.03,500.68 L408.16,501.60 L410.29,502.50 L412.44,503.38 L414.59,504.25 L416.74,505.10 L418.90,505.93 L421.07,506.74 L423.25,507.54 L425.43,508.31 L427.61,509.07 L429.80,509.82 L432.00,510.54 L434.20,511.24 L436.41,511.93 L438.62,512.59 L440.84,513.24 L443.06,513.87 L445.28,514.48 L447.51,515.07 L449.75,515.64 L451.99,516.18 L454.23,516.71 L456.48,517.22 L458.73,517.71 L460.98,518.18 L463.24,518.62 L465.50,519.05 L467.76,519.45 L470.03,519.83 L472.30,520.19 L474.57,520.53 L476.84,520.85 L479.12,521.15 L481.40,521.42 L483.68,521.67 L485.97,521.90 L488.25,522.10 L490.54,522.29 L492.83,522.45 L495.12,522.58 L497.41,522.70 L499.71,522.79 L502.00,522.86 L504.30,522.91 L506.59,522.94 L508.89,522.94 L511.19,522.93 L513.49,522.90 L515.79,522.85 L518.09,522.78 L520.39,522.69 L522.70,522.58 L525.00,522.45 L527.30,522.31 L529.61,522.15 L531.91,521.97 L534.21,521.77 L536.52,521.56 L538.82,521.33 L541.13,521.09 L543.43,520.83 L545.73,520.55 L548.04,520.27 L550.34,519.96 L552.64,519.65 L554.94,519.32 L557.24,518.97 L559.54,518.62 L561.84,518.25 L564.14,517.87 L566.43,517.47 L568.73,517.07 L571.02,516.66 L573.32,516.23 L575.61,515.79 L577.90,515.35 L580.19,514.89 L582.48,514.43 L584.76,513.95 L587.04,513.47 L589.33,512.98 L591.61,512.48 L593.88,511.98 L596.16,511.46 L598.43,510.94 L600.70,510.42 L602.97,509.88 L605.24,509.34 L607.50,508.80 L609.76,508.25 L612.02,507.70 L614.28,507.14 L616.53,506.58 L618.78,506.01 L621.03,505.44 L623.28,504.86 L625.52,504.28 L627.76,503.70 L630.00,503.11 L632.24,502.51 L634.48,501.92 L636.71,501.32 L638.95,500.71 L641.18,500.11 L643.41,499.50 L645.63,498.88 L647.86,498.27 L650.08,497.65 L652.31,497.03 L654.53,496.40 L656.75,495.78 L658.97,495.15 L661.19,494.52 L663.40,493.88 L665.62,493.25 L667.83,492.61 L670.05,491.97 L672.26,491.33 L674.47,490.68 L676.68,490.04 L678.90,489.39 L681.11,488.75 L683.32,488.10 L685.52,487.45 L687.73,486.80 L689.94,486.15 L692.15,485.50 L694.36,484.84 L696.57,484.19 L698.77,483.54 L700.98,482.89 L703.19,482.23 L705.40,481.58 L707.61,480.93 L709.81,480.27 L712.02,479.62 L714.23,478.97 L716.44,478.32 L718.65,477.67 L720.86,477.02 L723.07,476.37 L725.28,475.73 L727.50,475.08 L729.71,474.44 L731.92,473.79 L734.14,473.15 L736.36,472.51 L738.57,471.87 L740.79,471.24 L743.01,470.60 L745.23,469.97 L747.45,469.34 L749.68,468.72 L751.90,468.09 L754.13,467.47 L756.35,466.85 L758.58,466.24 L760.82,465.62 L763.05,465.02 L765.28,464.41 L767.52,463.81 L769.76,463.21 L772.00,462.61 L774.24,462.02 L776.49,461.43 L778.73,460.85 L780.98,460.27 L783.23,459.69 L785.49,459.12 L787.74,458.55 L790.00,457.99 L792.26,457.43 L794.53,456.88 L796.79,456.33 L799.06,455.79 L801.34,455.25 L803.61,454.72 L805.89,454.19 L808.17,453.67 L810.46,453.15 L812.74,452.64" fill="none" stroke="#ff0000" stroke-width="3.125" stroke-dasharray="11.690 5.055" stroke-linecap="butt" stroke-linejoin="round"/>
<path d="M80.43,204.48 L80.61,205.44 L80.80,206.39 L80.98,207.35 L81.16,208.31 L81.34,209.26 L81.53,210.22 L81.71,211.17 L81.90,212.13 L82.08,213.09 L82.26,214.04 L82.45,215.00 L82.63,215.96 L82.82,216.91 L83.00,217.87 L83.18,218.83 L83.37,219.78 L83.55,220.74 L83.74,221.70 L83.92,222.65 L84.11,223.61 L84.30,224.57 L84.48,225.52 L84.67,226.48 L84.85,227.44 L85.04,228.39 L85.23,229.35 L85.41,230.31 L85.60,231.27 L85.79,232.22 L85.97,233.18 L86.16,234.14 L86.35,235.09 L86.54,236.05 L86.73,237.01 L86.91,237.97 L87.10,238.92 L87.29,239.88 L87.48,240.84 L87.67,241.79 L87.86,242.75 L88.05,243.71 L88.24,244.67 L88.43,245.62 L88.62,246.58 L88.81,247.54 L89.00,248.49 L89.19,249.45 L89.38,250.41 L89.58,251.37 L89.77,252.32 L89.96,253.28 L90.15,254.24 L90.35,255.19 L90.54,256.15 L90.73,257.11 L90.93,258.06 L91.12,259.02 L91.32,259.98 L91.51,260.94 L91.70,261.89 L91.90,262.85 L92.10,263.81 L92.29,264.76 L92.49,265.72 L92.68,266.68 L92.88,267.63 L93.08,268.59 L93.27,269.55 L93.47,270.50 L93.67,271.46 L93.87,272.42 L94.07,273.37 L94.27,274.33 L94.47,275.28 L94.67,276.24 L94.87,277.20 L95.07,278.15 L95.27,279.11 L95.47,280.07 L95.67,281.02 L95.87,281.98 L96.07,282.93 L96.28,283.89 L96.48,284.84 L96.68,285.80 L96.89,286.76 L97.09,287.71 L97.30,288.67 L97.50,289.62 L97.71,290.58 L97.91,291.53 L98.12,292.49 L98.32,293.44 L98.53,294.40 L98.74,295.35 L98.95,296.31 L99.15,297.26 L99.36,298.22 L99.57,299.17 L99.78,300.13 L99.99,301.08 L100.20,302.03 L100.41,302.99 L100.62,303.94 L100.83,304.90 L101.05,305.85 L101.26,306.80 L101.47,307.76 L101.69,308.71 L101.90,309.67 L102.11,310.62 L102.33,311.57 L102.54,312.53 L102.76,313.48 L102.98,314.43 L103.19,315.38 L103.41,316.34 L103.63,317.29 L103.85,318.24 L104.06,319.19 L104.28,320.15 L104.50,321.10 L104.72,322.05 L104.94,323.00 L105.16,323.95 L105.39,324.91 L105.61,325.86 L105.83,326.81 L106.05,327.76 L106.28,328.71 L106.50,329.66 L106.73,330.61 L106.95,331.56 L107.18,332.52 L107.40,333.47 L107.63,334.42 L107.86,335.37 L108.09,336.32 L108.31,337.27 L108.54,338.22 L108.77,339.16 L109.00,340.11 L109.23,341.06 L109.46,342.01 L109.70,342.96 L109.93,343.91 L110.16,344.86 L110.40,345.81 L110.63,346.76 L110.86,347.70 L111.10,348.65 L111.34,349.60 L111.57,350.55 L111.81,351.49 L112.05,352.44 L112.29,353.39 L112.52,354.34 L112.76,355.28 L113.00,356.23 L113.24,357.18 L113.49,358.12 L113.73,359.07 L113.97,360.01 L114.21,360.96 L114.46,361.91 L114.70,362.85 L114.95,363.80 L115.19,364.74 L115.44,365.69 L115.69,366.63 L115.93,367.57 L116.18,368.52 L116.43,369.46 L116.68,370.41 L116.93,371.35 L117.18,372.29 L117.43,373.24 L117.69,374.18 L117.94,375.12 L118.19,376.06 L118.45,377.01 L118.70,377.95 L118.96,378.89 L119.22,379.83 L119.47,380.77 L119.73,381.71 L119.99,382.66 L120.25,383.60 L120.51,384.54 L120.77,385.48 L121.03,386.42 L121.29,387.36 L121.55,388.30 L121.82,389.24 L122.08,390.18 L122.35,391.11 L122.61,392.05 L122.88,392.99 L123.15,393.93 L123.42,394.87 L123.68,395.81 L123.95,396.74 L124.22,397.68 L124.49,398.62 L124.77,399.55 L125.04,400.49 L125.31,401.43 L125.59,402.36 L125.86,403.30 L126.14,404.23 L126.41,405.17 L126.69,406.10 L126.97,407.04 L127.25,407.97 L127.53,408.91 L127.81,409.84 L128.09,410.78 L128.37,411.71 L128.65,412.64 L128.94,413.58 L129.22,414.51 L129.50,415.44 L129.79,416.37 L130.08,417.30 L130.36,418.24 L130.65,419.17 L130.94,420.10 L131.23,421.03 L131.52,421.96 L131.81,422.89 L132.11,423.82 L132.40,424.75 L132.69,425.68 L132.99,426.61 L133.29,427.54 L133.58,428.46 L133.88,429.39 L134.18,430.32 L134.48,431.25 L134.78,432.18 L135.08,433.10 L135.38,434.03 L135.68,434.96 L135.99,435.88 L136.29,436.81 L136.60,437.73 L136.90,438.66 L137.21,439.58 L137.52,440.51 L137.83,441.43 L138.14,442.35 L138.45,443.28 L138.76,444.20 L139.07,445.12 L139.39,446.05 L139.70,446.97 L140.02,447.89 L140.33,448.81 L140.65,449.73 L140.97,450.65 L141.29,451.58 L141.61,452.50 L141.93,453.42 L142.25,454.34 L142.58,455.25 L142.90,456.17 L143.22,457.09 L143.55,458.01 L143.88,458.93 L144.20,459.85 L144.53,460.76 L144.86,461.68 L145.19,462.60 L145.52,463.51 L145.86,464.43 L146.19,465.34 L146.53,466.26 L146.86,467.17 L147.20,468.09 L147.53,469.00 L147.87,469.92 L148.21,470.83 L148.55,471.74 L148.89,472.65 L149.24,473.57 L149.58,474.48 L149.92,475.39 L150.27,476.30 L150.62,477.21 L150.96,478.12 L151.31,479.03 L151.66,479.94 L152.01,480.85 L152.36,481.76 L152.72,482.67 L153.07,483.58 L153.42,484.49 L153.78,485.39 L154.14,486.30 L154.50,487.21 L154.85,488.11 L155.21,489.02 L155.57,489.92 L155.94,490.83 L156.30,491.73 L156.66,492.64 L157.03,493.54 L157.40,494.44 L157.76,495.35 L158.13,496.25 L158.50,497.15 L158.87,498.05 L159.24,498.96 L159.62,499.86 L159.99,500.76 L160.37,501.66 L160.74,502.56 L161.12,503.46 L161.50,504.36 L161.88,505.25 L162.26,506.15 L162.64,507.05 L163.02,507.95 L163.41,508.84 L163.79,509.74 L164.18,510.64 L164.56,511.53 L164.95,512.43 L165.34,513.32 L165.73,514.22 L166.12,515.11 L166.52,516.00 L166.91,516.90 L167.31,517.79 L167.70,518.68 L168.10,519.57 L168.50,520.46 L168.90,521.36 L169.30,522.25 L169.70,523.14 L170.11,524.03 L170.51,524.91 L170.92,525.80 L171.32,526.69 L171.73,527.58 L172.14,528.47 L172.55,529.35 L172.96,530.24 L173.38,531.12 L173.79,532.01 L174.21,532.89 L174.62,533.78 L175.04,534.66 L175.46,535.55 L175.88,536.43 L176.30,537.31 L176.72,538.19 L177.15,539.08 L177.57,539.96 L178.00,540.84 L178.43,541.72 L178.86,542.60 L179.29,543.48 L179.72,544.36 L180.15,545.23 L180.58,546.11 L181.02,546.99 L181.45,547.87 L181.89,548.74 L182.33,549.62 L182.77,550.49 L183.21,551.37 L183.65,552.24 L184.10,553.12 L184.54,553.99 L184.99,554.86 L185.44,555.74 L185.89,556.61 L186.34,557.48 L186.79,558.35 L187.24,559.22 L187.70,560.09 L188.15,560.96 L188.61,561.83 L189.07,562.70 L189.53,563.56 L189.99,564.43 L190.45,565.30 L190.91,566.16 L191.38,567.03 L191.84,567.90 L192.31,568.76 L192.78,569.62 L193.25,570.49 L193.72,571.35 L194.19,572.21 L194.67,573.08 L195.14,573.94 L195.62,574.80" fill="none" stroke="#55aa00" stroke-width="4.17" stroke-linecap="square" stroke-linejoin="round"/>
<path d="M684.73,568.25 L685.00,567.91 L685.27,567.56 L685.54,567.22 L685.81,566.87 L686.08,566.53 L686.35,566.19 L686.62,565.85 L686.89,565.50 L687.17,565.16 L687.44,564.82 L687.71,564.48 L687.99,564.14 L688.26,563.80 L688.54,563.47 L688.81,563.13 L689.09,562.79 L689.37,562.45 L689.65,562.12 L689.92,561.78 L690.20,561.44 L690.48,561.11 L690.76,560.77 L691.04,560.44 L691.32,560.10 L691.60,559.77 L691.88,559.44 L692.16,559.10 L692.45,558.77 L692.73,558.44 L693.01,558.11 L693.30,557.78 L693.58,557.45 L693.86,557.12 L694.15,556.79 L694.44,556.46 L694.72,556.13 L695.01,555.80 L695.29,555.47 L695.58,555.15 L695.87,554.82 L696.16,554.49 L696.45,554.17 L696.73,553.84 L697.02,553.52 L697.31,553.19 L697.60,552.87 L697.89,552.54 L698.19,552.22 L698.48,551.89 L698.77,551.57 L699.06,551.25 L699.35,550.93 L699.65,550.61 L699.94,550.28 L700.24,549.96 L700.53,549.64 L700.82,549.32 L701.12,549.00 L701.42,548.68 L701.71,548.36 L702.01,548.05 L702.30,547.73 L702.60,547.41 L702.90,547.09 L703.20,546.78 L703.50,546.46 L703.79,546.14 L704.09,545.83 L704.39,545.51 L704.69,545.20 L704.99,544.88 L705.29,544.57 L705.60,544.25 L705.90,543.94 L706.20,543.63 L706.50,543.31 L706.80,543.00 L707.11,542.69 L707.41,542.38 L707.71,542.06 L708.02,541.75 L708.32,541.44 L708.63,541.13 L708.93,540.82 L709.24,540.51 L709.54,540.20 L709.85,539.89 L710.16,539.58 L710.46,539.27 L710.77,538.97 L711.08,538.66 L711.39,538.35 L711.69,538.04 L712.00,537.74 L712.31,537.43 L712.62,537.12 L712.93,536.82 L713.24,536.51 L713.55,536.21 L713.86,535.90 L714.17,535.60 L714.48,535.29 L714.79,534.99 L715.11,534.68 L715.42,534.38 L715.73,534.08 L716.04,533.77 L716.36,533.47 L716.67,533.17 L716.98,532.87 L717.30,532.57 L717.61,532.26 L717.92,531.96 L718.24,531.66 L718.55,531.36 L718.87,531.06 L719.19,530.76 L719.50,530.46 L719.82,530.16 L720.13,529.86 L720.45,529.56 L720.77,529.27 L721.09,528.97 L721.40,528.67 L721.72,528.37 L722.04,528.07 L722.36,527.78 L722.68,527.48 L723.00,527.18 L723.31,526.89 L723.63,526.59 L723.95,526.29 L724.27,526.00 L724.59,525.70 L724.91,525.41 L725.24,525.11 L725.56,524.82 L725.88,524.52 L726.20,524.23 L726.52,523.93 L726.84,523.64 L727.16,523.35 L727.49,523.05 L727.81,522.76 L728.13,522.47 L728.46,522.17 L728.78,521.88 L729.10,521.59 L729.43,521.30 L729.75,521.00 L730.08,520.71 L730.40,520.42 L730.72,520.13 L731.05,519.84 L731.37,519.55 L731.70,519.26 L732.03,518.97 L732.35,518.68 L732.68,518.39 L733.00,518.10 L733.33,517.81 L733.66,517.52 L733.98,517.23 L734.31,516.94 L734.64,516.65 L734.96,516.36 L735.29,516.07 L735.62,515.79 L735.95,515.50 L736.28,515.21 L736.60,514.92 L736.93,514.63 L737.26,514.35 L737.59,514.06 L737.92,513.77 L738.25,513.49 L738.58,513.20 L738.91,512.91 L739.24,512.63 L739.57,512.34 L739.90,512.05 L740.23,511.77 L740.56,511.48 L740.89,511.20 L741.22,510.91 L741.55,510.63 L741.88,510.34 L742.21,510.06 L742.54,509.77 L742.87,509.49 L743.20,509.20 L743.54,508.92 L743.87,508.63 L744.20,508.35 L744.53,508.07 L744.86,507.78 L745.20,507.50 L745.53,507.21 L745.86,506.93 L746.19,506.65 L746.53,506.36 L746.86,506.08 L747.19,505.80 L747.53,505.51 L747.86,505.23 L748.19,504.95 L748.53,504.67 L748.86,504.38 L749.19,504.10 L749.53,503.82 L749.86,503.54 L750.19,503.26 L750.53,502.97 L750.86,502.69 L751.20,502.41 L751.53,502.13 L751.87,501.85 L752.20,501.57 L752.54,501.28 L752.87,501.00 L753.20,500.72 L753.54,500.44 L753.87,500.16 L754.21,499.88 L754.54,499.60 L754.88,499.32 L755.22,499.04 L755.55,498.75 L755.89,498.47 L756.22,498.19 L756.56,497.91 L756.89,497.63 L757.23,497.35 L757.56,497.07 L757.90,496.79 L758.24,496.51 L758.57,496.23 L758.91,495.95 L759.24,495.67 L759.58,495.39 L759.92,495.11 L760.25,494.83 L760.59,494.55 L760.92,494.27 L761.26,493.99 L761.60,493.71 L761.93,493.43 L762.27,493.15 L762.60,492.87 L762.94,492.59 L763.28,492.31 L763.61,492.03 L763.95,491.76 L764.29,491.48 L764.62,491.20 L764.96,490.92 L765.30,490.64 L765.63,490.36 L765.97,490.08 L766.31,489.80 L766.64,489.52 L766.98,489.24 L767.31,488.96 L767.65,488.68 L767.99,488.40 L768.32,488.12 L768.66,487.84 L769.00,487.56 L769.33,487.28 L769.67,487.00 L770.01,486.73 L770.34,486.45 L770.68,486.17 L771.01,485.89 L771.35,485.61 L771.69,485.33 L772.02,485.05 L772.36,484.77 L772.70,484.49 L773.03,484.21 L773.37,483.93 L773.70,483.65 L774.04,483.37 L774.38,483.09 L774.71,482.81 L775.05,482.53 L775.38,482.25 L775.72,481.97 L776.06,481.69 L776.39,481.41 L776.73,481.13 L777.06,480.85 L777.40,480.57 L777.73,480.29 L778.07,480.01 L778.40,479.73 L778.74,479.45 L779.07,479.17 L779.41,478.89 L779.74,478.61 L780.08,478.33 L780.41,478.05 L780.75,477.77 L781.08,477.49 L781.42,477.21 L781.75,476.93 L782.09,476.64 L782.42,476.36 L782.76,476.08 L783.09,475.80 L783.42,475.52 L783.76,475.24 L784.09,474.96 L784.43,474.67 L784.76,474.39 L785.09,474.11 L785.43,473.83 L785.76,473.55 L786.09,473.26 L786.43,472.98 L786.76,472.70 L787.09,472.42 L787.42,472.14 L787.76,471.85 L788.09,471.57 L788.42,471.29 L788.75,471.00 L789.09,470.72 L789.42,470.44 L789.75,470.15 L790.08,469.87 L790.41,469.59 L790.74,469.30 L791.08,469.02 L791.41,468.74 L791.74,468.45 L792.07,468.17 L792.40,467.88 L792.73,467.60 L793.06,467.31 L793.39,467.03 L793.72,466.74 L794.05,466.46 L794.38,466.17 L794.71,465.89 L795.04,465.60 L795.37,465.32 L795.70,465.03 L796.03,464.75 L796.36,464.46 L796.68,464.17 L797.01,463.89 L797.34,463.60 L797.67,463.31 L798.00,463.03 L798.32,462.74 L798.65,462.45 L798.98,462.16 L799.31,461.88 L799.63,461.59 L799.96,461.30 L800.29,461.01 L800.61,460.72 L800.94,460.44 L801.26,460.15 L801.59,459.86 L801.92,459.57 L802.24,459.28 L802.57,458.99 L802.89,458.70 L803.22,458.41 L803.54,458.12 L803.86,457.83 L804.19,457.54 L804.51,457.25 L804.83,456.96 L805.16,456.67 L805.48,456.38 L805.80,456.08 L806.13,455.79 L806.45,455.50 L806.77,455.21 L807.09,454.92 L807.41,454.62 L807.74,454.33 L808.06,454.04 L808.38,453.74 L808.70,453.45 L809.02,453.16 L809.34,452.86 L809.66,452.57 L809.98,452.27 L810.30,451.98 L810.62,451.68 L810.94,451.39 L811.25,451.09 L811.57,450.80 L811.89,450.50 L812.21,450.21" fill="none" stroke="#55aa00" stroke-width="4.17" stroke-linecap="square" stroke-linejoin="round"/>
<path d="M78.95,106.09 L79.88,107.04 L80.81,107.99 L81.74,108.93 L82.66,109.88 L83.59,110.84 L84.51,111.79 L85.43,112.75 L86.35,113.70 L87.27,114.66 L88.18,115.62 L89.09,116.58 L90.01,117.55 L90.92,118.51 L91.83,119.48 L92.73,120.45 L93.64,121.42 L94.54,122.39 L95.44,123.36 L96.34,124.34 L97.24,125.31 L98.13,126.29 L99.02,127.27 L99.92,128.26 L100.80,129.24 L101.69,130.22 L102.58,131.21 L103.46,132.20 L104.34,133.19 L105.22,134.18 L106.09,135.18 L106.97,136.18 L107.84,137.17 L108.71,138.17 L109.58,139.17 L110.44,140.18 L111.30,141.18 L112.16,142.19 L113.02,143.20 L113.88,144.21 L114.73,145.22 L115.58,146.24 L116.43,147.25 L117.27,148.27 L118.12,149.29 L118.96,150.31 L119.79,151.34 L120.63,152.36 L121.46,153.39 L122.29,154.42 L123.12,155.45 L123.94,156.49 L124.77,157.52 L125.59,158.56 L126.40,159.60 L127.22,160.64 L128.03,161.68 L128.84,162.73 L129.64,163.77 L130.44,164.82 L131.24,165.87 L132.04,166.93 L132.83,167.98 L133.62,169.04 L134.41,170.10 L135.20,171.16 L135.98,172.22 L136.76,173.28 L137.53,174.35 L138.30,175.42 L139.07,176.49 L139.84,177.56 L140.61,178.64 L141.37,179.71 L142.12,180.79 L142.88,181.87 L143.63,182.95 L144.38,184.04 L145.13,185.12 L145.87,186.21 L146.61,187.30 L147.35,188.39 L148.08,189.49 L148.81,190.58 L149.54,191.68 L150.26,192.78 L150.98,193.88 L151.70,194.98 L152.42,196.09 L153.13,197.20 L153.84,198.31 L154.54,199.42 L155.24,200.53 L155.94,201.64 L156.64,202.76 L157.33,203.88 L158.02,205.00 L158.71,206.12 L159.39,207.24 L160.07,208.37 L160.75,209.50 L161.42,210.63 L162.09,211.76 L162.76,212.89 L163.42,214.03 L164.08,215.16 L164.74,216.30 L165.39,217.44 L166.05,218.59 L166.69,219.73 L167.34,220.88 L167.98,222.03 L168.62,223.17 L169.25,224.33 L169.88,225.48 L170.51,226.63 L171.14,227.79 L171.76,228.95 L172.38,230.11 L173.00,231.27 L173.61,232.43 L174.22,233.60 L174.83,234.76 L175.44,235.93 L176.04,237.10 L176.64,238.27 L177.24,239.44 L177.83,240.62 L178.42,241.79 L179.01,242.97 L179.60,244.15 L180.19,245.33 L180.77,246.51 L181.35,247.69 L181.92,248.88 L182.50,250.06 L183.07,251.25 L183.64,252.43 L184.21,253.62 L184.77,254.81 L185.33,256.01 L185.89,257.20 L186.45,258.39 L187.01,259.59 L187.56,260.78 L188.11,261.98 L188.66,263.18 L189.21,264.38 L189.75,265.58 L190.30,266.78 L190.84,267.98 L191.38,269.19 L191.92,270.39 L192.45,271.60 L192.98,272.81 L193.52,274.02 L194.05,275.22 L194.57,276.43 L195.10,277.65 L195.62,278.86 L196.15,280.07 L196.67,281.28 L197.19,282.50 L197.71,283.71 L198.22,284.93 L198.74,286.15 L199.25,287.36 L199.76,288.58 L200.27,289.80 L200.78,291.02 L201.29,292.24 L201.79,293.46 L202.30,294.69 L202.80,295.91 L203.30,297.13 L203.80,298.36 L204.30,299.58 L204.80,300.80 L205.30,302.03 L205.80,303.26 L206.29,304.48 L206.78,305.71 L207.28,306.94 L207.77,308.17 L208.26,309.39 L208.75,310.62 L209.24,311.85 L209.72,313.08 L210.21,314.31 L210.70,315.54 L211.18,316.78 L211.67,318.01 L212.15,319.24 L212.63,320.47 L213.12,321.70 L213.60,322.93 L214.08,324.17 L214.56,325.40 L215.04,326.63 L215.52,327.87 L216.00,329.10 L216.47,330.33 L216.95,331.57 L217.43,332.80 L217.91,334.04 L218.38,335.27 L218.86,336.50 L219.33,337.74 L219.81,338.97 L220.29,340.21 L220.76,341.44 L221.23,342.68 L221.71,343.91 L222.18,345.14 L222.66,346.38 L223.13,347.61 L223.60,348.85 L224.08,350.08 L224.55,351.32 L225.02,352.55 L225.50,353.79 L225.97,355.02 L226.44,356.25 L226.91,357.49 L227.38,358.72 L227.86,359.96 L228.33,361.19 L228.80,362.43 L229.27,363.66 L229.74,364.89 L230.21,366.13 L230.68,367.36 L231.16,368.60 L231.63,369.83 L232.10,371.06 L232.57,372.30 L233.04,373.53 L233.51,374.77 L233.98,376.00 L234.46,377.23 L234.93,378.47 L235.40,379.70 L235.87,380.93 L236.34,382.17 L236.81,383.40 L237.29,384.63 L237.76,385.87 L238.23,387.10 L238.70,388.33 L239.18,389.56 L239.65,390.80 L240.12,392.03 L240.59,393.26 L241.07,394.49 L241.54,395.72 L242.02,396.96 L242.49,398.19 L242.96,399.42 L243.44,400.65 L243.91,401.88 L244.39,403.11 L244.86,404.34 L245.34,405.57 L245.82,406.80 L246.29,408.03 L246.77,409.26 L247.25,410.49 L247.73,411.72 L248.20,412.95 L248.68,414.18 L249.16,415.41 L249.64,416.64 L250.12,417.87 L250.60,419.10 L251.08,420.32 L251.56,421.55 L252.04,422.78 L252.53,424.01 L253.01,425.24 L253.49,426.46 L253.98,427.69 L254.46,428.92 L254.95,430.14 L255.43,431.37 L255.92,432.59 L256.40,433.82 L256.89,435.04 L257.38,436.27 L257.87,437.49 L258.36,438.72 L258.85,439.94 L259.34,441.16 L259.83,442.39 L260.32,443.61 L260.81,444.83 L261.31,446.06 L261.80,447.28 L262.29,448.50 L262.79,449.72 L263.29,450.94 L263.78,452.16 L264.28,453.38 L264.78,454.60 L265.28,455.82 L265.78,457.04 L266.28,458.26 L266.78,459.48 L267.29,460.70 L267.79,461.92 L268.29,463.13 L268.80,464.35 L269.31,465.57 L269.81,466.78 L270.32,468.00 L270.83,469.22 L271.34,470.43 L271.85,471.65 L272.37,472.86 L272.88,474.08 L273.39,475.29 L273.91,476.50 L274.42,477.71 L274.94,478.93 L275.46,480.14 L275.98,481.35 L276.50,482.56 L277.02,483.77 L277.54,484.98 L278.07,486.19 L278.59,487.40 L279.12,488.61 L279.65,489.82 L280.17,491.03 L280.70,492.23 L281.23,493.44 L281.77,494.65 L282.30,495.85 L282.83,497.06 L283.37,498.26 L283.91,499.47 L284.44,500.67 L284.98,501.88 L285.52,503.08 L286.07,504.28 L286.61,505.48 L287.15,506.69 L287.70,507.89 L288.25,509.09 L288.79,510.29 L289.34,511.49 L289.90,512.69 L290.45,513.88 L291.00,515.08 L291.56,516.28 L292.11,517.48 L292.67,518.67 L293.23,519.87 L293.79,521.06 L294.36,522.26 L294.92,523.45 L295.49,524.64 L296.05,525.84 L296.62,527.03 L297.19,528.22 L297.76,529.41 L298.34,530.60 L298.91,531.79 L299.49,532.98 L300.07,534.17 L300.65,535.36 L301.23,536.54 L301.81,537.73 L302.40,538.92 L302.98,540.10 L303.57,541.29 L304.16,542.47 L304.75,543.65 L305.34,544.84 L305.94,546.02 L306.53,547.20 L307.13,548.38 L307.73,549.56 L308.33,550.74 L308.94,551.92 L309.54,553.10 L310.15,554.27 L310.76,555.45 L311.37,556.63 L311.98,557.80 L312.59,558.98 L313.21,560.15 L313.83,561.32 L314.45,562.50 L315.07,563.67 L315.69,564.84 L316.32,566.01 L316.95,567.18 L317.58,568.35 L318.21,569.52 L318.84,570.68" fill="none" stroke="#55aa00" stroke-width="3.125" stroke-dasharray="11.690 5.055" stroke-linecap="butt" stroke-linejoin="round"/>
</g>
<rect x="66.27" y="0.93" width="747.03" height="557.07" fill="none" stroke="#000" stroke-width="1.67"/>
<rect x="65.435" y="0" width="748.565" height="1.85" fill="#000"/>
<line x1="181.90" y1="558.0" x2="181.90" y2="565.7" stroke="#000" stroke-width="1.67"/>
<line x1="309.07" y1="558.0" x2="309.07" y2="565.7" stroke="#000" stroke-width="1.67"/>
<line x1="436.25" y1="558.0" x2="436.25" y2="565.7" stroke="#000" stroke-width="1.67"/>
<line x1="563.42" y1="558.0" x2="563.42" y2="565.7" stroke="#000" stroke-width="1.67"/>
<line x1="690.60" y1="558.0" x2="690.60" y2="565.7" stroke="#000" stroke-width="1.67"/>
<line x1="66.27" y1="2.65" x2="58.56999999999999" y2="2.65" stroke="#000" stroke-width="1.67"/>
<line x1="66.27" y1="76.80" x2="58.56999999999999" y2="76.80" stroke="#000" stroke-width="1.67"/>
<line x1="66.27" y1="150.95" x2="58.56999999999999" y2="150.95" stroke="#000" stroke-width="1.67"/>
<line x1="66.27" y1="225.10" x2="58.56999999999999" y2="225.10" stroke="#000" stroke-width="1.67"/>
<line x1="66.27" y1="299.25" x2="58.56999999999999" y2="299.25" stroke="#000" stroke-width="1.67"/>
<line x1="66.27" y1="373.40" x2="58.56999999999999" y2="373.40" stroke="#000" stroke-width="1.67"/>
<line x1="66.27" y1="447.55" x2="58.56999999999999" y2="447.55" stroke="#000" stroke-width="1.67"/>
<line x1="66.27" y1="521.70" x2="58.56999999999999" y2="521.70" stroke="#000" stroke-width="1.67"/>
<g style="filter:grayscale(1)">
<text x="181.90" y="589.4" text-anchor="middle" font-size="22.2" transform="translate(181.90 0) scale(1.05 1) translate(-181.90 0)">0.5</text>
<text x="309.07" y="589.4" text-anchor="middle" font-size="22.2" transform="translate(309.07 0) scale(1.05 1) translate(-309.07 0)">1.0</text>
<text x="436.25" y="589.4" text-anchor="middle" font-size="22.2" transform="translate(436.25 0) scale(1.05 1) translate(-436.25 0)">1.5</text>
<text x="563.42" y="589.4" text-anchor="middle" font-size="22.2" transform="translate(563.42 0) scale(1.05 1) translate(-563.42 0)">2.0</text>
<text x="690.60" y="589.4" text-anchor="middle" font-size="22.2" transform="translate(690.60 0) scale(1.05 1) translate(-690.60 0)">2.5</text>
<text x="49.7" y="84.80" text-anchor="end" font-size="22.2" transform="translate(49.7 0) scale(1.05 1) translate(-49.7 0)">0</text>
<text x="49.7" y="233.10" text-anchor="end" font-size="22.2" transform="translate(49.7 0) scale(1.05 1) translate(-49.7 0)">0.5</text>
<rect x="2.2" y="225.90" width="13.0" height="1.7" fill="#000"/>
<text x="48.8" y="381.40" text-anchor="end" font-size="22.2" transform="translate(48.8 0) scale(1.05 1) translate(-48.8 0)">1</text>
<rect x="21.1" y="374.20" width="13.0" height="1.7" fill="#000"/>
<text x="49.7" y="529.70" text-anchor="end" font-size="22.2" transform="translate(49.7 0) scale(1.05 1) translate(-49.7 0)">1.5</text>
<rect x="2.2" y="522.50" width="13.0" height="1.7" fill="#000"/>
</g>
<g id="xlabel" fill="none" stroke="#000" stroke-linecap="round" stroke-linejoin="round">
<path d="M616.9,583.7 L621.9,582.9" stroke-width="1.2"/>
<path d="M620.7,583.3 L614.6,610.7" stroke-width="3.0" stroke-linecap="butt"/>
<path d="M618,600.6 C621.5,598 624.5,594 627.8,592.9 C629.5,592.5 631,593.2 631.5,594.5" stroke-width="1.5"/>
<circle cx="630.1" cy="595.2" r="2.2" fill="#000" stroke="none"/>
<path d="M620.4,600.4 C623.3,600.8 625,603.5 624.6,606.5 C624.3,609 625.3,611 627.3,611" stroke-width="2.8"/>
<path d="M627.3,611 C629.8,611 631.5,608 632.3,605.3" stroke-width="1.4"/>
<path d="M634,608 C635,606 636.5,605 638,605.2" stroke-width="1.4"/>
<path d="M638,605.2 C640,606 639,609 638.4,611 C638,613 639,614.3 640.8,614.2" stroke-width="2.6"/>
<path d="M640.8,614.2 C643,614 645.5,610.5 646.5,608" stroke-width="1.4"/>
<path d="M647.9,604.9 L644.8,616.5" stroke-width="2.4" stroke-linecap="butt"/>
<path d="M644.8,616.5 C643.8,620 641.8,622.6 639.8,622.6 C638,622.6 636.6,621.5 636.6,620" stroke-width="1.7"/>
<circle cx="636.9" cy="619.7" r="1.6" fill="#000" stroke="none"/>
</g>
<g id="ylabel" fill="none" stroke="#000" stroke-linecap="round" stroke-linejoin="round">
<path d="M8.2,307.6 L34.9,317.2" stroke-width="1.4"/>
<path d="M15.5,329.6 C10,327 7.2,323.5 7.6,320.5 C8.2,316 14,313.7 21.5,313.1 L23,314.3 C16.5,314.9 11.2,317 10.7,321 C10.4,324.5 13,327.5 15.8,328.9 Z" fill="#000" stroke-width="0.6"/>
<circle cx="23.8" cy="300.4" r="2.2" fill="#000" stroke="none"/>
<path d="M25.2,298.6 C27.5,297.2 31.5,298.2 34,301.8" stroke-width="1.2"/>
<circle cx="9.7" cy="264.6" r="1.7" fill="#000" stroke="none"/>
<path d="M9.5,264 C12,262 17,262.8 20,264.6 C24.5,267.2 26.2,270 25.6,272.2 C25,274.6 22.5,275.8 20.5,275.6 C18.5,275.4 16.5,274.9 14.8,274.4" stroke-width="1.9"/>
<path d="M22.5,266.4 C25.2,268.7 26,270.5 25.5,272.3 C25.1,273.8 24,274.8 22.8,275.3" stroke-width="2.9"/>
<path d="M21,276 C23.5,277.5 25.8,280 26.2,282.5 C26.6,285 24.5,286.3 21.5,286.5 C17.5,286.7 12,285 8.3,282" stroke-width="1.8"/>
<path d="M24.3,278.6 C26,280.5 26.6,282.5 26.2,284 C25.8,285.4 24.6,286.1 23.2,286.4" stroke-width="2.9"/>
</g>
</svg>
</body></html>
